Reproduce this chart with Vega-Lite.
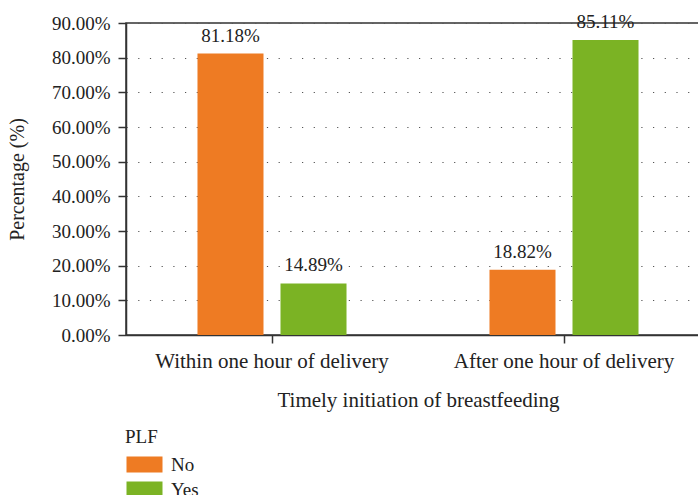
{
  "$schema": "https://vega.github.io/schema/vega-lite/v6.json",
  "autosize": {"type": "none"},
  "padding": {"left": 126, "top": 23, "right": 0, "bottom": 160},
  "width": 584,
  "height": 312,
  "config": {
    "font": "Liberation Serif",
    "view": {"stroke": "#333", "strokeWidth": 1.5},
    "text": {"font": "Liberation Serif"}
  },
  "data": {
    "values": [
      {"timing": "Within one hour of delivery", "PLF": "No", "pct": 0.8118},
      {"timing": "Within one hour of delivery", "PLF": "Yes", "pct": 0.1489},
      {"timing": "After one hour of delivery", "PLF": "No", "pct": 0.1882},
      {"timing": "After one hour of delivery", "PLF": "Yes", "pct": 0.8511}
    ]
  },
  "encoding": {
    "x": {
      "field": "timing", "type": "nominal",
      "sort": ["Within one hour of delivery", "After one hour of delivery"],
      "scale": {"paddingInner": 0, "paddingOuter": 0},
      "axis": {
        "title": "Timely initiation of breastfeeding",
        "labelAngle": 0, "labelFontSize": 21, "titleFontSize": 21, "labelLimit": 0,
        "titleFontWeight": "normal", "labelColor": "#222", "titleColor": "#222",
        "domainColor": "#333", "domainWidth": 1.5, "tickColor": "#333", "tickWidth": 1.5,
        "tickSize": 8, "labelPadding": 7, "titlePadding": 18
      }
    },
    "xOffset": {
      "field": "PLF", "type": "nominal",
      "scale": {"paddingInner": 0.2048, "paddingOuter": 0.861}
    },
    "y": {
      "field": "pct", "type": "quantitative",
      "scale": {"domain": [0, 0.9]},
      "axis": {
        "title": "Percentage (%)",
        "values": [0, 0.1, 0.2, 0.3, 0.4, 0.5, 0.6, 0.7, 0.8, 0.9],
        "format": ".2%",
        "labelFontSize": 19, "titleFontSize": 20, "titleFontWeight": "normal",
        "labelColor": "#222", "titleColor": "#222",
        "domainColor": "#333", "domainWidth": 1.5, "tickColor": "#333", "tickWidth": 1.5,
        "tickSize": 8, "labelPadding": 8, "titlePadding": 24,
        "grid": true, "gridColor": "#555", "gridDash": [1.2, 10.5], "gridWidth": 1.2
      }
    }
  },
  "layer": [
    {
      "mark": {"type": "bar"},
      "encoding": {
        "color": {
          "field": "PLF", "type": "nominal",
          "scale": {"domain": ["No", "Yes"], "range": ["#ee7b23", "#7bb324"]},
          "legend": {
            "orient": "none", "legendX": -1, "legendY": 405,
            "title": "PLF", "titleFontSize": 19, "titleFontWeight": "normal", "titleColor": "#222",
            "labelFontSize": 19, "labelColor": "#222", "labelOffset": 27,
            "symbolType": "M-1,-1L3.5,-1L3.5,1L-1,1Z",
            "symbolSize": 256, "symbolStrokeWidth": 0, "symbolOpacity": 1,
            "rowPadding": 5, "titlePadding": 8
          }
        }
      }
    },
    {
      "mark": {"type": "text", "baseline": "bottom", "dy": -8, "fontSize": 19, "color": "#222"},
      "encoding": {
        "text": {"field": "pct", "type": "quantitative", "format": ".2%"}
      }
    }
  ]
}
